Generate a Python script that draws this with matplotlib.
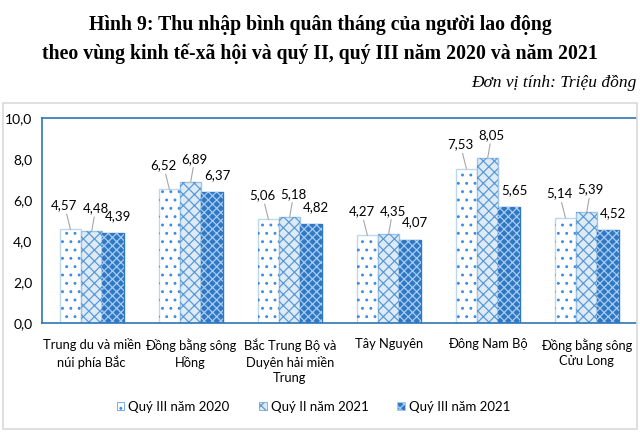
import matplotlib.pyplot as plt
import matplotlib.patches as mpatches
import numpy as np

regions = ['Trung du và miền\nnúi phía Bắc', 'Đồng bằng sông\nHồng',
           'Bắc Trung Bộ và\nDuyên hải miền\nTrung', 'Tây Nguyên',
           'Đông Nam Bộ', 'Đồng bằng sông\nCửu Long']
q3_2020 = [4.57, 6.52, 5.06, 4.27, 7.53, 5.14]
q2_2021 = [4.48, 6.89, 5.18, 4.35, 8.05, 5.39]
q3_2021 = [4.39, 6.37, 4.82, 4.07, 5.65, 4.52]
series_names = ['Quý III năm 2020', 'Quý II năm 2021', 'Quý III năm 2021']

plt.rcParams['font.family'] = ['Lato', 'DejaVu Sans']
plt.rcParams['hatch.linewidth'] = 0.9

blue = '#2E75B6'
styles = [
    dict(face='white', hatch='..', hcolor='#3D8BE0', edge='#BDD7EE'),
    dict(face='#DEEBF7', hatch='xxx', hcolor='#5B9BD5', edge='#9DC3E6'),
    dict(face='#2F78C4', hatch='xxxx', hcolor='#A9CBEF', edge='#2F78C4'),
]

fig = plt.figure(figsize=(6.4, 4.38), dpi=100)
fig.patches.append(mpatches.Rectangle((0.005, 0.02), 0.99, 0.745, transform=fig.transFigure,
                                      fill=False, edgecolor='#D9D9D9', linewidth=1.2))
ax = fig.add_axes([0.066, 0.2626, 0.928, 0.468])

x = np.arange(len(regions))
w = 0.215
data = [q3_2020, q2_2021, q3_2021]
offsets = [-w, 0, w]
label_off = [(-6, 24), (4, 23), (5, 11)]

for i, vals in enumerate(data):
    s = styles[i]
    ax.bar(x + offsets[i], vals, w, color=s['face'], edgecolor=s['edge'], linewidth=1)
    ax.bar(x + offsets[i], vals, w, color='none', edgecolor=s['hcolor'], hatch=s['hatch'], linewidth=0)
    for xi, v in zip(x + offsets[i], vals):
        dx, dy = label_off[i]
        props = None
        if i < 2:
            props = dict(arrowstyle='-', color='#A6A6A6', lw=0.8, shrinkA=0, shrinkB=0)
        ax.annotate(f'{v:.2f}'.replace('.', ','), xy=(xi, v), xytext=(dx, dy),
                    textcoords='offset pixels', ha='center', va='bottom' if i == 2 else 'center',
                    fontsize=9.5, color='black', arrowprops=props)

ax.set_xlim(-0.5, len(regions) - 0.5)
ax.set_ylim(0, 10)
ax.set_yticks(np.arange(0, 10.1, 2))
ax.set_yticklabels([f'{t:.1f}'.replace('.', ',') for t in np.arange(0, 10.1, 2)], fontsize=10)
ax.set_xticks(x)
ax.set_xticklabels(regions, fontsize=9.3, linespacing=1.35, va='top')
ax.tick_params(axis='x', length=0, pad=11)
ax.tick_params(axis='y', length=0, pad=7)
for side in ['left', 'top', 'bottom']:
    ax.spines[side].set_color(blue)
    ax.spines[side].set_linewidth(1.2)
ax.spines['right'].set_visible(False)

handles = [mpatches.Patch(facecolor=s['face'], edgecolor=s['hcolor'], hatch=s['hatch'], linewidth=0.5)
           for s in styles]
fig.legend(handles, series_names, loc='center', bbox_to_anchor=(0.49, 0.071), ncol=3,
           frameon=False, fontsize=9.5, handlelength=0.6, handleheight=0.6,
           handletextpad=0.3, columnspacing=2.2)

fig.text(0.5, 0.942, 'Hình 9: Thu nhập bình quân tháng của người lao động',
         ha='center', va='center', fontsize=14.2, fontweight='bold', family='Liberation Serif')
fig.text(0.5, 0.878, 'theo vùng kinh tế-xã hội và quý II, quý III năm 2020 và năm 2021',
         ha='center', va='center', fontsize=14.2, fontweight='bold', family='Liberation Serif')
fig.text(0.995, 0.81, 'Đơn vị tính: Triệu đồng', ha='right', va='center',
         fontsize=12.5, style='italic', family='Liberation Serif')

fig.savefig('out.png', dpi=100)
